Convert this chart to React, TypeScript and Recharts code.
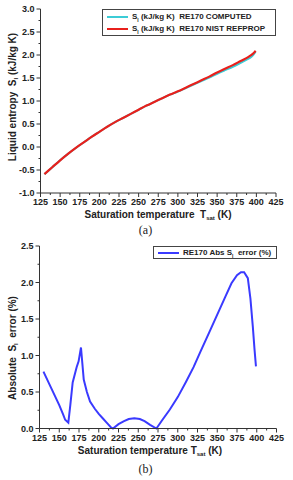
import { LineChart, Line, XAxis, YAxis, Legend } from "recharts";

// saturation temperatures (K) for liquid entropy panel
const satTemp = [130, 140, 150, 160, 170, 180, 190, 200, 210, 220, 230, 240, 250, 260, 270, 280, 290, 300, 310, 320, 330, 340, 350, 360, 370, 380, 390, 395, 399];
const sComputed = [-0.594, -0.442, -0.29, -0.15, -0.021, 0.099, 0.219, 0.329, 0.44, 0.54, 0.63, 0.719, 0.809, 0.899, 0.98, 1.059, 1.137, 1.205, 1.281, 1.358, 1.433, 1.509, 1.593, 1.67, 1.744, 1.83, 1.92, 1.98, 2.072];
const sNist = [-0.59, -0.44, -0.29, -0.15, -0.02, 0.1, 0.22, 0.33, 0.44, 0.54, 0.63, 0.72, 0.81, 0.9, 0.98, 1.06, 1.14, 1.21, 1.29, 1.37, 1.45, 1.53, 1.62, 1.7, 1.78, 1.87, 1.96, 2.02, 2.09];

// absolute error panel
const errTemp = [130, 140, 150, 155, 157.5, 161.5, 164, 167, 172, 174.5, 177.5, 181, 185, 189, 195, 200, 205, 210, 215, 218, 225, 232, 238, 245, 252, 258, 265, 273, 280, 290, 300, 310, 320, 328.6, 340, 350, 360, 368, 375, 380, 384, 388.7, 392, 395, 397.2, 399];
const errAbs = [0.78, 0.55, 0.32, 0.19, 0.12, 0.08, 0.32, 0.63, 0.84, 0.92, 1.11, 0.67, 0.5, 0.37, 0.27, 0.2, 0.14, 0.08, 0.02, 0.0, 0.06, 0.1, 0.13, 0.14, 0.13, 0.1, 0.05, 0.0, 0.11, 0.26, 0.43, 0.63, 0.84, 1.05, 1.32, 1.56, 1.8, 1.99, 2.1, 2.14, 2.14, 2.06, 1.78, 1.4, 1.08, 0.85];

// ticks
const xMajor = [125, 150, 175, 200, 225, 250, 275, 300, 325, 350, 375, 400, 425];
const xMinor = [137.5, 162.5, 187.5, 212.5, 237.5, 262.5, 287.5, 312.5, 337.5, 362.5, 387.5, 412.5];
const yMajorTop = [-1, -0.5, 0, 0.5, 1, 1.5, 2, 2.5, 3];
const yMinorTop = [-0.75, -0.25, 0.25, 0.75, 1.25, 1.75, 2.25, 2.75];
const yMajorBot = [0, 0.5, 1, 1.5, 2, 2.5];
const yMinorBot = [0.25, 0.75, 1.25, 1.75, 2.25];

const entropyData = satTemp.map((t, i) => ({ t, computed: sComputed[i], nist: sNist[i] }));
const errorData = errTemp.map((t, i) => ({ t, err: errAbs[i] }));

const FONT = "'Liberation Sans', Arial, sans-serif";
const INK = "#222";
const AXIS = "#333";
const TICK_SIZE = 4;
const TICK_MARGIN = 2;

const byValue = (a: number, b: number) => a - b;

function AxisTick(props: any) {
  const { x, y, payload, side, majors, digits } = props;
  const v = payload.value;
  const major = majors.includes(v);
  const len = major ? TICK_SIZE : 2;
  if (side === "bottom") {
    const ay = y - TICK_SIZE - TICK_MARGIN;
    return (
      <g>
        <line x1={x} x2={x} y1={ay} y2={ay + len} stroke={AXIS} />
        {major && (
          <text x={x} y={y} dy="0.71em" textAnchor="middle" fontFamily={FONT} fontWeight="bold" fontSize={9} fill={INK}>
            {digits ? v.toFixed(digits) : v}
          </text>
        )}
      </g>
    );
  }
  const ax = x + TICK_SIZE + TICK_MARGIN;
  return (
    <g>
      <line x1={ax - len} x2={ax} y1={y} y2={y} stroke={AXIS} />
      {major && (
        <text x={x} y={y} dy="0.355em" textAnchor="end" fontFamily={FONT} fontWeight="bold" fontSize={9} fill={INK}>
          {v.toFixed(digits)}
        </text>
      )}
    </g>
  );
}

const titleProps = { fontFamily: FONT, fontWeight: "bold", fontSize: 10, fill: INK } as const;

function LegendRow({ color, children }: { color: string; children: any }) {
  return (
    <div style={{ display: "flex", alignItems: "center", height: 12 }}>
      <svg width={21} height={4} style={{ marginLeft: 4, marginRight: 4 }}>
        <line x1={0} x2={21} y1={2} y2={2} stroke={color} strokeWidth={2} />
      </svg>
      <span>{children}</span>
    </div>
  );
}

const legendBox = {
  border: "1px solid #444",
  background: "#fff",
  boxSizing: "border-box",
  fontFamily: FONT,
  fontWeight: "bold",
  fontSize: 8,
  color: INK,
  lineHeight: "12px",
  whiteSpace: "nowrap",
} as const;

const sub = { fontSize: 5, verticalAlign: "sub", lineHeight: 0 } as const;

const entropyLabels: Record<string, any> = {
  computed: (
    <>
      S<span style={sub}>l</span> (kJ/kg K)&nbsp;&nbsp;RE170 COMPUTED
    </>
  ),
  nist: (
    <>
      S<span style={sub}>l</span> (kJ/kg K)&nbsp;&nbsp;RE170 NIST REFPROP
    </>
  ),
};

function EntropyChart() {
  return (
    <LineChart width={293} height={224} data={entropyData} margin={{ top: 9, right: 17, bottom: 0, left: 0 }}>
      <XAxis
        dataKey="t"
        type="number"
        domain={[125, 425]}
        ticks={[...xMajor, ...xMinor].sort(byValue)}
        interval={0}
        height={31}
        stroke={AXIS}
        tickLine={false}
        tickSize={TICK_SIZE}
        tickMargin={TICK_MARGIN}
        tick={(p: any) => <AxisTick {...p} side="bottom" majors={xMajor} digits={0} />}
        label={() => (
          <text x={158} y={218} textAnchor="middle" {...titleProps}>
            Saturation temperature&nbsp;&nbsp;T
            <tspan dy={2} fontSize={6}>sat</tspan>
            <tspan dy={-2}> (K)</tspan>
          </text>
        )}
      />
      <XAxis xAxisId="top" dataKey="t" type="number" orientation="top" domain={[125, 425]} height={0} tick={false} tickLine={false} stroke={AXIS} />
      <YAxis
        type="number"
        domain={[-1, 3]}
        ticks={[...yMajorTop, ...yMinorTop].sort(byValue)}
        interval={0}
        width={40.5}
        stroke={AXIS}
        tickLine={false}
        tickSize={TICK_SIZE}
        tickMargin={TICK_MARGIN}
        tick={(p: any) => <AxisTick {...p} side="left" majors={yMajorTop} digits={1} />}
        label={() => (
          <text x={12} y={97} textAnchor="middle" transform="rotate(-90 12 97)" dy="0.35em" {...titleProps}>
            Liquid entropy&nbsp;&nbsp;S
            <tspan dy={2} fontSize={6}>l</tspan>
            <tspan dy={-2}> (kJ/kg K)</tspan>
          </text>
        )}
      />
      <YAxis yAxisId="right" orientation="right" type="number" domain={[-1, 3]} width={0} tick={false} tickLine={false} stroke={AXIS} />
      <Legend
        layout="horizontal"
        align="center"
        verticalAlign="middle"
        wrapperStyle={{ top: 9, left: 102, width: 174, height: 27 }}
        content={(props: any) => (
          <div style={{ ...legendBox, width: 174, height: 27, paddingTop: 1 }}>
            {props.payload.map((e: any) => (
              <LegendRow key={e.dataKey} color={e.color}>
                {entropyLabels[e.dataKey]}
              </LegendRow>
            ))}
          </div>
        )}
      />
      <Line dataKey="computed" type="monotone" stroke="#3cccd6" strokeWidth={2} dot={false} isAnimationActive={false} />
      <Line dataKey="nist" type="monotone" stroke="#e8201c" strokeWidth={2.2} dot={false} isAnimationActive={false} />
    </LineChart>
  );
}

function ErrorChart() {
  return (
    <LineChart width={293} height={220} data={errorData} margin={{ top: 6, right: 16.5, bottom: 0, left: 0 }}>
      <XAxis
        dataKey="t"
        type="number"
        domain={[125, 425]}
        ticks={[...xMajor, ...xMinor].sort(byValue)}
        interval={0}
        height={31.5}
        stroke={AXIS}
        tickLine={false}
        tickSize={TICK_SIZE}
        tickMargin={TICK_MARGIN}
        tick={(p: any) => <AxisTick {...p} side="bottom" majors={xMajor} digits={0} />}
        label={() => (
          <text x={150} y={214} textAnchor="middle" {...titleProps}>
            Saturation temperature T
            <tspan dy={2} fontSize={6}>sat</tspan>
            <tspan dy={-2}> (K)</tspan>
          </text>
        )}
      />
      <XAxis xAxisId="top" dataKey="t" type="number" orientation="top" domain={[125, 425]} height={0} tick={false} tickLine={false} stroke={AXIS} />
      <YAxis
        type="number"
        domain={[0, 2.5]}
        ticks={[...yMajorBot, ...yMinorBot].sort(byValue)}
        interval={0}
        width={39.5}
        stroke={AXIS}
        tickLine={false}
        tickSize={TICK_SIZE}
        tickMargin={TICK_MARGIN}
        tick={(p: any) => <AxisTick {...p} side="left" majors={yMajorBot} digits={1} />}
        label={() => (
          <text x={12} y={108} textAnchor="middle" transform="rotate(-90 12 108)" dy="0.35em" {...titleProps}>
            Absolute&nbsp;&nbsp;S
            <tspan dy={2} fontSize={6}>l</tspan>
            <tspan dy={-2}>&nbsp;&nbsp;error (%)</tspan>
          </text>
        )}
      />
      <YAxis yAxisId="right" orientation="right" type="number" domain={[0, 2.5]} width={0} tick={false} tickLine={false} stroke={AXIS} />
      <Legend
        layout="horizontal"
        align="center"
        verticalAlign="middle"
        wrapperStyle={{ top: 6, left: 153, width: 123.5, height: 13 }}
        content={(props: any) => (
          <div style={{ ...legendBox, width: 123.5, height: 13 }}>
            {props.payload.map((e: any) => (
              <LegendRow key={e.dataKey} color={e.color}>
                RE170 Abs S<span style={sub}>l</span>&nbsp;&nbsp;error (%)
              </LegendRow>
            ))}
          </div>
        )}
      />
      <Line dataKey="err" type="linear" stroke="#3a3aff" strokeWidth={2} dot={false} isAnimationActive={false} />
    </LineChart>
  );
}

const panelTag = {
  position: "absolute",
  width: 293,
  textAlign: "center",
  fontFamily: "'Liberation Serif', 'Times New Roman', serif",
  fontSize: 12,
  color: INK,
  left: -1,
} as const;

export default function App() {
  return (
    <div style={{ position: "relative", width: 293, height: 480, background: "#fff" }}>
      <style>{"body{margin:0}"}</style>
      <div style={{ position: "absolute", top: 0, left: 0 }}>
        <EntropyChart />
      </div>
      <div style={{ ...panelTag, top: 223 }}>(a)</div>
      <div style={{ position: "absolute", top: 240, left: 0 }}>
        <ErrorChart />
      </div>
      <div style={{ ...panelTag, top: 462 }}>(b)</div>
    </div>
  );
}
